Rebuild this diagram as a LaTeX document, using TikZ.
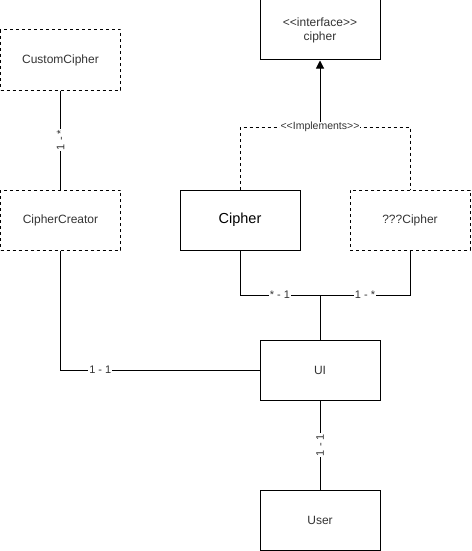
\documentclass[tikz,border=0pt]{standalone}
\usepackage{fontspec}
\setmainfont{Liberation Sans}[Ligatures=TeXOff]
\usetikzlibrary{arrows.meta}
\begin{document}
\begin{tikzpicture}[x=1pt,y=-1pt]
\tikzstyle{every node}+=[inner sep=0pt]
\tikzstyle{cls}=[draw, line width=1pt, minimum width=120pt, minimum height=60pt, font=\fontsize{12}{14}\selectfont, text=black!80, align=center]
\tikzstyle{dcls}=[cls, dash pattern=on 3pt off 3pt]
\tikzstyle{conn}=[line width=1pt]
\tikzstyle{lbl}=[fill=white, inner sep=1pt, font=\fontsize{11}{12}\selectfont, text=black!80]
\useasboundingbox (0,0) rectangle (471,551);
% classes
\node [cls] (iface) at (320,30) {<<interface>>\\cipher};
\node [cls, font=\fontsize{14.5}{16}\selectfont, text=black] (cipher) at (240,220) {Cipher};
\node [dcls] (unknown) at (410,220) {???Cipher};
\node [dcls] (custom) at (60.5,60) {CustomCipher};
\node [dcls] (creator) at (60.5,220) {CipherCreator};
\node [cls] (ui) at (320,370) {UI};
\node [cls] (user) at (320,520) {User};
\coordinate (impl) at (320,127);
\coordinate (join) at (320,295);
% implements
\draw [conn, dash pattern=on 3pt off 3pt] (cipher.north) |- (impl) -| (unknown.north);
\draw [conn, -{Triangle[width=8pt,length=8pt]}] (impl) -- (iface);
\node [lbl, inner sep=0.5pt, font=\fontsize{10.5}{12}\selectfont] at (impl) {<<Implements>>};
% associations
\draw [conn] (cipher.south) |- (join) node [lbl, pos=0.75] {* - 1};
\draw [conn] (unknown.south) |- (join) node [lbl, pos=0.75] {1 - *};
\draw [conn] (join) -- (ui.north);
\draw [conn] (custom) -- (creator) node [lbl, midway, rotate=90] {1 - *};
\draw [conn] (creator.south) |- (ui.west) node [lbl, pos=0.6] {1 - 1};
\draw [conn] (ui) -- (user) node [lbl, midway, rotate=90] {1 - 1};
\end{tikzpicture}
\end{document}
